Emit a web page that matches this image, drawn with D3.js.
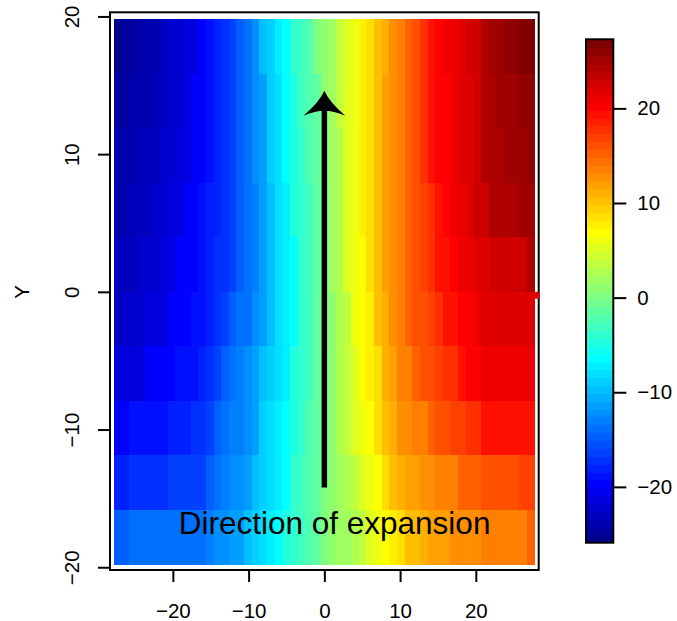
<!DOCTYPE html>
<html>
<head>
<meta charset="utf-8">
<script src="https://cdnjs.cloudflare.com/ajax/libs/d3/7.8.5/d3.min.js"></script>
<style>
  body { margin: 0; background: #fff; }
  svg { display: block; font-family: "Liberation Sans", Arial, sans-serif; }
</style>
</head>
<body>
<svg id="chart" width="677" height="621"></svg>
<script>
// grid centres of the image (X across, Y down the rows from top)
const xCells = [-27,-26,-25,-24,-23,-22,-21,-20,-19,-18,-17,-16,-15,-14,-13,-12,-11,-10,-9,-8,-7,-6,-5,-4,-3,-2,-1,
                0,1,2,3,4,5,6,7,8,9,10,11,12,13,14,15,16,17,18,19,20,21,22,23,24,25,26,27];
const yCells = [17.8, 13.9, 9.9, 5.9, 2.0, -2.0, -5.9, -9.9, -13.9, -17.8];

// field values, one row per yCells entry
const zRows = [
  [-26,-25,-25,-24,-24,-24,-23,-22,-22,-21,-21,-20,-19,-18,-17,-16,-15,-14,-12,-10,-9,-7,-6,-4,-3,-2,0,1,2,4,5,6,8,9,10,11,13,14,15,16,18,19,20,21,21,22,23,23,24,25,25,26,26,27,27],
  [-25,-25,-24,-24,-24,-23,-23,-22,-22,-21,-20,-20,-19,-18,-17,-16,-15,-14,-12,-11,-9,-8,-6,-5,-3,-2,-1,1,2,4,5,6,8,9,10,12,13,14,15,16,18,19,20,20,21,22,22,23,24,24,25,25,25,26,26],
  [-24,-24,-24,-23,-23,-23,-22,-22,-21,-21,-20,-20,-19,-18,-17,-16,-15,-14,-12,-11,-9,-8,-6,-5,-4,-2,-1,1,2,3,5,6,8,9,10,12,13,14,15,16,18,19,20,20,21,22,22,23,24,24,24,25,25,25,26],
  [-24,-24,-23,-23,-23,-22,-22,-21,-21,-20,-20,-19,-18,-18,-17,-16,-15,-14,-13,-11,-10,-8,-7,-5,-4,-3,-1,0,2,3,5,6,8,9,10,12,13,14,15,16,17,18,19,20,21,21,22,23,23,24,24,24,24,25,25],
  [-23,-23,-23,-22,-22,-22,-21,-21,-20,-20,-20,-19,-18,-17,-17,-16,-15,-14,-13,-11,-10,-8,-7,-6,-4,-3,-1,0,2,3,5,6,7,9,10,12,13,14,15,16,17,18,19,19,20,21,21,22,22,23,23,23,23,23,24],
  [-23,-22,-22,-22,-21,-21,-21,-20,-20,-20,-19,-19,-18,-17,-16,-15,-14,-14,-12,-11,-10,-8,-7,-6,-4,-3,-1,0,1,3,4,6,7,8,10,11,13,14,15,16,16,17,18,19,19,20,20,21,22,22,22,22,22,22,22],
  [-21,-21,-21,-21,-20,-20,-20,-20,-19,-19,-19,-18,-17,-16,-15,-14,-13,-12,-11,-10,-9,-8,-7,-5,-4,-3,-1,0,1,3,4,5,7,8,9,11,12,14,14,15,16,16,17,18,18,19,20,20,21,21,21,21,21,21,21],
  [-20,-20,-19,-19,-19,-19,-19,-18,-18,-18,-17,-17,-16,-15,-14,-13,-13,-12,-11,-9,-8,-7,-6,-5,-4,-2,-1,0,1,3,4,5,6,7,9,10,11,13,13,14,14,15,16,16,17,17,18,18,19,19,19,19,19,19,19],
  [-18,-18,-17,-17,-17,-17,-17,-16,-16,-16,-16,-16,-15,-14,-13,-12,-12,-11,-10,-9,-8,-7,-6,-4,-3,-2,-1,0,1,2,3,4,5,6,7,9,10,11,12,12,13,13,14,14,14,15,15,15,16,16,16,16,16,17,17],
  [-15,-15,-14,-14,-14,-14,-14,-14,-14,-14,-14,-14,-13,-12,-12,-11,-11,-10,-9,-8,-7,-6,-5,-4,-3,-2,-1,0,1,2,2,3,4,5,6,7,8,9,10,10,11,12,12,12,13,13,13,13,14,14,14,14,14,14,15]
];

const xTicks = [-20, -10, 0, 10, 20];
const yTicks = [-20, -10, 0, 10, 20];
const zTicks = [-20, -10, 0, 10, 20];
const zLimits = [-25.9, 27.3];
const xExtent = [-27.75, 27.75];
const yExtent = [-19.8, 19.8];

const arrowX = [0, 0];
const arrowY = [-14.2, 14.6];
const noteText = "Direction of expansion";
const notePos = [1.35, -17.6];
const markPos = [27.9, -0.25];
const yLabel = "Y";

// jet colour table, 64 steps (dark blue -> dark red)
function jet64() {
  const cols = [];
  for (let i = 1; i <= 64; i++) {
    let r = 0, g = 0, b = 0;
    if (i <= 8) { b = (8 + i) / 16; }
    else if (i <= 24) { g = (i - 8) / 16; b = 1; }
    else if (i <= 40) { r = (i - 24) / 16; g = 1; b = (40 - i) / 16; }
    else if (i <= 56) { r = 1; g = (56 - i) / 16; }
    else { r = (72 - i) / 16; }
    cols.push(d3.rgb(r * 255, g * 255, b * 255).formatHex());
  }
  return cols;
}
const palette = jet64();
function colourOf(v) {
  let k = Math.floor((v - zLimits[0]) / (zLimits[1] - zLimits[0]) * 64);
  return palette[Math.max(0, Math.min(63, k))];
}
const minus = d => d3.format('d')(d).replace('-', '\u2212');

const svg = d3.select('#chart');
const fs = 20.5;

const x = d3.scaleLinear().domain([-28.3, 28.3]).range([110, 538.7]);
const y = d3.scaleLinear().domain([-20.2, 20.3]).range([570, 12.3]);

const xb = d3.scaleBand().domain(xCells).range([x(xExtent[0]), x(xExtent[1])]);
const yb = d3.scaleBand().domain(yCells).range([y(yExtent[1]), y(yExtent[0])]);

// the image
const cells = [];
zRows.forEach((row, j) => row.forEach((v, i) => cells.push({ xc: xCells[i], yc: yCells[j], v })));
svg.append('g').attr('shape-rendering', 'crispEdges')
  .selectAll('rect').data(cells).enter().append('rect')
  .attr('x', d => xb(d.xc))
  .attr('y', d => yb(d.yc))
  .attr('width', xb.bandwidth() + 0.6)
  .attr('height', yb.bandwidth() + 0.6)
  .attr('fill', d => colourOf(d.v));

// box
svg.append('rect')
  .attr('x', x(-28.3)).attr('y', y(20.3))
  .attr('width', x(28.3) - x(-28.3)).attr('height', y(-20.2) - y(20.3))
  .attr('fill', 'none').attr('stroke', '#000').attr('stroke-width', 2);

// axes
const xAxis = svg.append('g').attr('transform', `translate(0,${y(-20.2)})`)
  .call(d3.axisBottom(x).tickValues(xTicks).tickSize(12).tickPadding(21).tickFormat(minus));
xAxis.select('.domain').remove();
xAxis.selectAll('line').attr('stroke-width', 2);
xAxis.selectAll('text').attr('font-size', fs).attr('font-family', 'Liberation Sans, Arial, sans-serif').attr('fill', '#000');

const yAxis = svg.append('g').attr('transform', `translate(${x(-28.3)},0)`)
  .call(d3.axisLeft(y).tickValues(yTicks).tickSize(12).tickFormat(''));
yAxis.select('.domain').remove();
yAxis.selectAll('line').attr('stroke-width', 2);
yAxis.selectAll('.tick').append('text')
  .attr('transform', 'translate(-38,0) rotate(-90)')
  .attr('text-anchor', 'middle').attr('dy', '0.35em')
  .attr('font-size', fs).attr('fill', '#000')
  .text(minus);

svg.append('text')
  .attr('transform', `translate(22,${y(0)}) rotate(-90)`)
  .attr('text-anchor', 'middle').attr('dy', '0.35em')
  .attr('font-size', fs).text(yLabel);

// arrow
const ax = x(arrowX[1]), tipY = y(arrowY[1]);
svg.append('line')
  .attr('x1', x(arrowX[0])).attr('y1', y(arrowY[0]))
  .attr('x2', ax).attr('y2', tipY + 19)
  .attr('stroke', '#000').attr('stroke-width', 5.5);
svg.append('path')
  .attr('d', `M${ax},${tipY} Q${ax - 5.5},${tipY + 12} ${ax - 21},${tipY + 25}
              Q${ax - 9},${tipY + 20} ${ax},${tipY + 20}
              Q${ax + 9},${tipY + 20} ${ax + 21},${tipY + 25}
              Q${ax + 5.5},${tipY + 12} ${ax},${tipY} Z`)
  .attr('fill', '#000');

svg.append('text')
  .attr('x', x(notePos[0])).attr('y', y(notePos[1]))
  .attr('text-anchor', 'middle').attr('font-size', 31.5)
  .text(noteText);

// small red mark on the right edge
svg.append('rect')
  .attr('x', x(markPos[0]) - 3.5).attr('y', y(markPos[1]) - 3.5)
  .attr('width', 7).attr('height', 7).attr('fill', '#E00000');

// colour bar
const z = d3.scaleLinear().domain(zLimits).range([542.7, 39.3]);
const barX = 586, barW = 27.3;
const steps = d3.range(64);
const stepH = (zLimits[1] - zLimits[0]) / 64;
svg.append('g').attr('shape-rendering', 'crispEdges')
  .selectAll('rect').data(steps).enter().append('rect')
  .attr('x', barX)
  .attr('y', k => z(zLimits[0] + (k + 1) * stepH))
  .attr('width', barW)
  .attr('height', k => z(zLimits[0] + k * stepH) - z(zLimits[0] + (k + 1) * stepH) + 0.6)
  .attr('fill', k => palette[k]);
svg.append('rect')
  .attr('x', barX).attr('y', z(zLimits[1]))
  .attr('width', barW).attr('height', z(zLimits[0]) - z(zLimits[1]))
  .attr('fill', 'none').attr('stroke', '#000').attr('stroke-width', 2);

const zAxis = svg.append('g').attr('transform', `translate(${barX + barW},0)`)
  .call(d3.axisRight(z).tickValues(zTicks).tickSize(13).tickPadding(11).tickFormat(minus));
zAxis.select('.domain').remove();
zAxis.selectAll('line').attr('stroke-width', 2);
zAxis.selectAll('text').attr('font-size', fs).attr('font-family', 'Liberation Sans, Arial, sans-serif').attr('fill', '#000');
</script>
</body>
</html>
